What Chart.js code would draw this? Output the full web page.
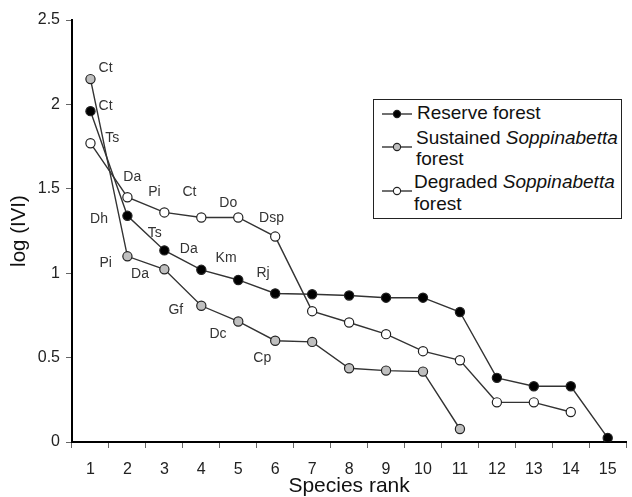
<!DOCTYPE html>
<html>
<head>
<meta charset="utf-8">
<script src="https://cdn.jsdelivr.net/npm/chart.js@4"></script>
<style>
  body { margin: 0; background: #fff; font-family: "Liberation Sans", Arial, sans-serif; }
  #wrap { position: relative; width: 632px; height: 497px; }
  #legend { position: absolute; left: 373px; top: 99px; width: 249px; height: 120px;
    box-sizing: border-box; border: 1.5px solid #222; background: #fff; }
  .lg-line { position: absolute; font-size: 19px; line-height: 20px; color: #111; white-space: nowrap; }
  .lg-mark { position: absolute; }
</style>
</head>
<body>
<div id="wrap">
  <canvas id="ivi" width="632" height="497"></canvas>
  <div id="legend"></div>
</div>
<script>
const ranks = ['1', '2', '3', '4', '5', '6', '7', '8', '9', '10', '11', '12', '13', '14', '15'];
const reserve = [1.96, 1.34, 1.135, 1.02, 0.96, 0.88, 0.875, 0.868, 0.855, 0.855, 0.77, 0.38, 0.33, 0.33, 0.024];
const sustained = [2.15, 1.10, 1.023, 0.807, 0.714, 0.60, 0.593, 0.437, 0.423, 0.417, 0.077];
const degraded = [1.77, 1.45, 1.36, 1.33, 1.33, 1.217, 0.775, 0.708, 0.639, 0.538, 0.484, 0.235, 0.235, 0.178];
const yTicks = [0, 0.5, 1, 1.5, 2, 2.5];

// species codes written beside the points (rank, log IVI)
const speciesText = ['Ct', 'Ct', 'Ts', 'Da', 'Pi', 'Ct', 'Do', 'Dsp', 'Dh', 'Ts', 'Da', 'Km', 'Rj', 'Pi', 'Da', 'Gf', 'Dc', 'Cp'];
const speciesRank = [1.41, 1.41, 1.59, 2.13, 2.73, 3.68, 4.73, 5.90, 1.23, 2.74, 3.66, 4.67, 5.67, 1.41, 2.34, 3.31, 4.45, 5.65];
const speciesVal = [2.214, 1.992, 1.798, 1.567, 1.478, 1.478, 1.414, 1.329, 1.319, 1.240, 1.141, 1.088, 0.999, 1.058, 0.995, 0.781, 0.637, 0.494];

const legendItems = [
  { fill: '#000', lines: ['Reserve forest'] },
  { fill: '#bfbfbf', lines: ['Sustained <i>Soppinabetta</i>', 'forest'] },
  { fill: '#fff', lines: ['Degraded <i>Soppinabetta</i>', 'forest'] }
];

const speciesLabels = {
  id: 'speciesLabels',
  afterDatasetsDraw(chart) {
    const ctx = chart.ctx;
    const xs = chart.scales.x, ys = chart.scales.y;
    ctx.save();
    ctx.font = '14px "Liberation Sans", Arial, sans-serif';
    ctx.fillStyle = '#333';
    ctx.textAlign = 'center';
    ctx.textBaseline = 'middle';
    speciesText.forEach((t, i) => {
      ctx.fillText(t, xs.getPixelForValue(speciesRank[i] - 1), ys.getPixelForValue(speciesVal[i]));
    });
    ctx.restore();
  }
};

function series(label, data, fill) {
  return {
    label: label,
    data: data,
    borderColor: '#333',
    borderWidth: 1.4,
    pointRadius: 4.6,
    pointBackgroundColor: fill,
    pointBorderColor: '#222',
    pointBorderWidth: 1.2,
    tension: 0
  };
}

new Chart(document.getElementById('ivi'), {
  type: 'line',
  data: {
    labels: ranks,
    datasets: [
      series('Reserve forest', reserve, '#000'),
      series('Sustained Soppinabetta forest', sustained, '#bfbfbf'),
      series('Degraded Soppinabetta forest', degraded, '#fff')
    ]
  },
  options: {
    responsive: false,
    animation: false,
    layout: { padding: { top: 20, right: 0, left: 0, bottom: 0 } },
    plugins: { legend: { display: false }, tooltip: { enabled: false } },
    scales: {
      x: {
        offset: true,
        afterFit: s => { s.height = 55; },
        border: { color: '#000', width: 2 },
        grid: { offset: true, drawOnChartArea: false, drawTicks: true, tickLength: 6, color: '#666' },
        ticks: { color: '#222', padding: 12, font: { size: 16, family: '"Liberation Sans", Arial' } },
        title: { display: true, text: 'Species rank', color: '#111', padding: 0,
          font: { size: 21, family: '"Liberation Sans", Arial', lineHeight: 1 } }
      },
      y: {
        min: 0,
        max: 2.5,
        afterFit: s => { s.width = 72; },
        afterBuildTicks: s => { s.ticks = yTicks.map(v => ({ value: v })); },
        border: { color: '#000', width: 2 },
        grid: { drawOnChartArea: false, drawTicks: true, tickLength: 6, color: '#666' },
        ticks: { color: '#222', padding: 6, font: { size: 16, family: '"Liberation Sans", Arial' },
          callback: v => String(v) },
        title: { display: true, text: 'log (IVI)', color: '#111', padding: { top: 7 },
          font: { size: 20.5, family: '"Liberation Sans", Arial' } }
      }
    }
  },
  plugins: [speciesLabels]
});

// legend (HTML text, positioned over the plot)
const legend = document.getElementById('legend');
const textTops = [[3], [28, 49], [71.5, 94]];
const textLefts = [43, 42, 40];
const markTops = [14, 47, 91];
legendItems.forEach((item, i) => {
  const svg = document.createElementNS('http://www.w3.org/2000/svg', 'svg');
  svg.setAttribute('width', '32');
  svg.setAttribute('height', '12');
  svg.setAttribute('class', 'lg-mark');
  svg.style.left = '7px';
  svg.style.top = (markTops[i] - 6) + 'px';
  svg.innerHTML = '<line x1="1" y1="6" x2="31" y2="6" stroke="#333" stroke-width="1.4"/>' +
    '<circle cx="16" cy="6" r="3.6" fill="' + item.fill + '" stroke="#222" stroke-width="1.1"/>';
  legend.appendChild(svg);
  item.lines.forEach((ln, j) => {
    const d = document.createElement('div');
    d.className = 'lg-line';
    d.style.left = textLefts[i] + 'px';
    d.style.top = textTops[i][j] + 'px';
    d.innerHTML = ln;
    legend.appendChild(d);
  });
});
</script>
</body>
</html>
